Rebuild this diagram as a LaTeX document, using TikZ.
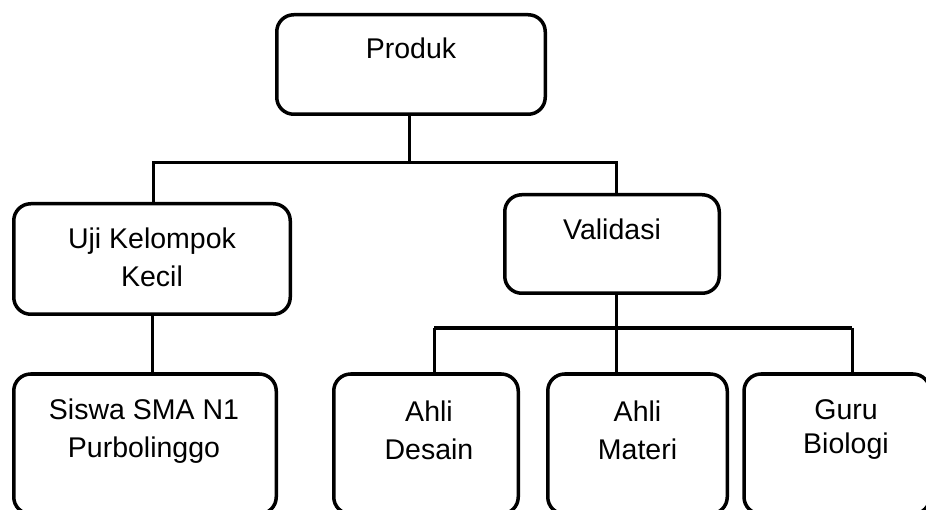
\documentclass[tikz,border=0pt]{standalone}
\usepackage{fontspec}
\setmainfont{Liberation Sans}
\usetikzlibrary{positioning}

\tikzset{
  kotak/.style={draw, line width=3.5pt, rounded corners=17pt, inner sep=0pt},
  teks/.style={font=\fontsize{28.5}{38}\selectfont, align=center, inner sep=0pt, anchor=base},
  garis/.style={line width=3pt},
  garistebal/.style={line width=4.5pt}
}

\begin{document}
\begin{tikzpicture}[x=1pt, y=-1pt]
\path[use as bounding box, clip] (0,0) rectangle (926,510);

% Kotak-kotak
\node[kotak, minimum width=268.5, minimum height=99.5] (produk) at (411,64.5) {};
\node[kotak, minimum width=276.5, minimum height=110.5] (uji) at (152,259) {};
\node[kotak, minimum width=214.5, minimum height=98.5] (validasi) at (612,244) {};
\node[kotak, minimum width=262.5, minimum height=140] (siswa) at (145,444) {};
\node[kotak, minimum width=184.5, minimum height=140] (desain) at (426,444) {};
\node[kotak, minimum width=179.5, minimum height=140] (materi) at (637.5,444) {};
\node[kotak, minimum width=186, minimum height=140] (guru) at (837,444) {};

% Teks di dalam kotak (base = baris terakhir)
\node[teks] (tProduk) at (411,59) {Produk};
\node[teks] (tUji) at (152,287) {Uji Kelompok\\Kecil};
\node[teks] (tValidasi) at (612,240) {Validasi};
\node[teks] (tSiswa) at (144,457) {Siswa SMA N1\\Purbolinggo};
\node[teks] (tDesain) at (429,459) {Ahli\\Desain};
\node[teks] (tMateri) at (637.5,459) {Ahli\\Materi};
\node[teks] (tGuru) at (846,453) {Guru\\[-4pt]Biologi};

% Garis penghubung atas
\coordinate (bus1) at (409,163);
\coordinate (kiri1) at (153,163);
\coordinate (kanan1) at (616,163);
\draw[garis] (bus1 |- produk.south) -- (bus1);
\draw[garis] (kiri1 |- uji.north) -- (kiri1) -- (kanan1) -- (kanan1 |- validasi.north);
\draw[garis] (uji.south) -- (uji.south |- siswa.north);

% Garis penghubung bawah
\coordinate (bus2) at (616,328);
\coordinate (kiri2) at (434,328);
\coordinate (kanan2) at (852,328);
\draw[garis] (bus2 |- validasi.south) -- (bus2);
\draw[garistebal] (kiri2) -- (kanan2);
\foreach \k/\b in {kiri2/desain, bus2/materi, kanan2/guru} {
  \draw[garis] (\k) -- (\k |- \b.north);
}

\end{tikzpicture}
\end{document}
